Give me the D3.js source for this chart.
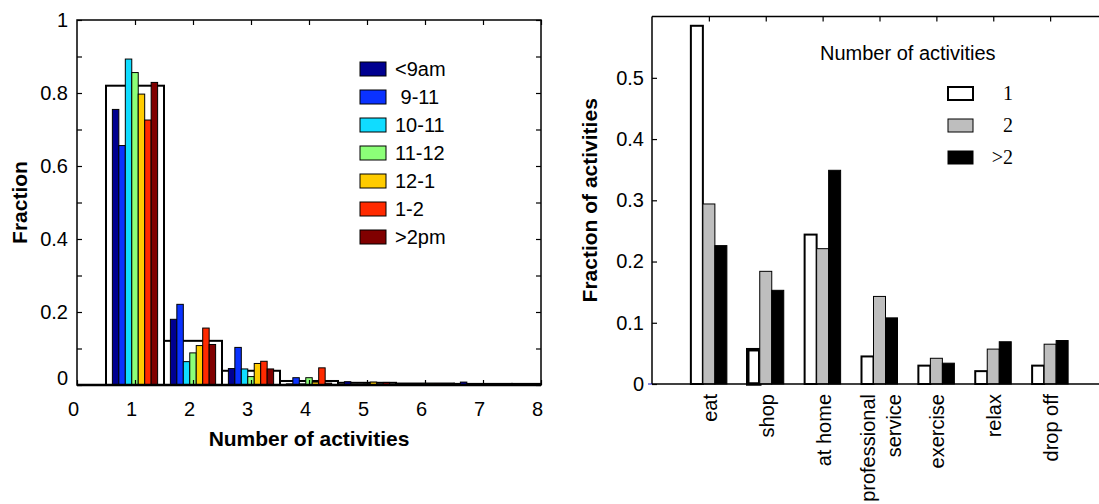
<!DOCTYPE html>
<html>
<head>
<meta charset="utf-8">
<script src="https://cdn.jsdelivr.net/npm/d3@7"></script>
<style>
  body { margin: 0; background: #fff; }
  svg text { font-family: "Liberation Sans", Arial, sans-serif; fill: #000; }
</style>
</head>
<body>
<svg id="chart" width="1099" height="504"></svg>
<script>
// ---- left panel data: fraction of people by number of activities, per start time ----
const counts = [1, 2, 3, 4, 5, 6, 7, 8];
const allTimes = [0.82, 0.121, 0.039, 0.011, 0.006, 0.004, 0.003, 0.003];
const slotNames = ["<9am", " 9-11", "10-11", "11-12", "12-1", "1-2", ">2pm"];
const slotColors = ["#000090", "#0a32ff", "#10dcff", "#8cff78", "#ffcc00", "#ff2a00", "#800000"];
const before9 = [0.755, 0.18, 0.045, 0.003, 0.009, 0.002, 0.008, 0.001];
const from9to11 = [0.656, 0.221, 0.103, 0.02, 0.002, 0.001, 0.002, 0];
const from10to11 = [0.893, 0.064, 0.044, 0.003, 0.002, 0.001, 0.001, 0];
const from11to12 = [0.856, 0.088, 0.023, 0.02, 0.003, 0.003, 0.001, 0];
const from12to1 = [0.797, 0.108, 0.059, 0.008, 0.008, 0.003, 0.001, 0];
const from1to2 = [0.726, 0.156, 0.065, 0.047, 0.002, 0.003, 0.001, 0];
const after2 = [0.829, 0.111, 0.044, 0.005, 0.007, 0.002, 0.001, 0];
const slotSeries = [before9, from9to11, from10to11, from11to12, from12to1, from1to2, after2];

// ---- right panel data: fraction of activities by type ----
const activities = ["eat", "shop", "at home", "professional service", "exercise", "relax", "drop off"];
const activityLines = [["eat"], ["shop"], ["at home"], ["professional", "service"], ["exercise"], ["relax"], ["drop off"]];
const oneAct = [0.585, 0.056, 0.244, 0.045, 0.030, 0.021, 0.030];
const twoAct = [0.294, 0.184, 0.221, 0.143, 0.042, 0.057, 0.065];
const moreAct = [0.226, 0.153, 0.349, 0.108, 0.034, 0.069, 0.071];
const groupNames = ["1", "2", ">2"];
const groupFills = ["#ffffff", "#bebebe", "#000000"];

const svg = d3.select("#chart");

// ================= left panel =================
const xL = d3.scaleLinear().domain([0, 8]).range([77, 541]);
const yL = d3.scaleLinear().domain([0, 1]).range([385, 20]);
const sub = d3.scaleBand().domain(slotNames).range([-0.39, 0.39]);

svg.append("clipPath").attr("id", "clipL")
  .append("rect").attr("x", xL(0)).attr("y", 0)
  .attr("width", xL(8) - xL(0)).attr("height", yL(0) + 4);

const gL = svg.append("g").attr("clip-path", "url(#clipL)");

// overall bars (white, behind)
gL.selectAll("rect.all")
  .data(counts.map((c, i) => ({ c, v: allTimes[i] })))
  .join("rect")
  .attr("class", "all")
  .attr("x", d => xL(d.c - 0.5))
  .attr("width", xL(1) - xL(0))
  .attr("y", d => yL(d.v))
  .attr("height", d => yL(0) - yL(d.v))
  .attr("fill", "#fff")
  .attr("stroke", "#000")
  .attr("stroke-width", 2);

// per time-slot bars
slotSeries.forEach((vals, s) => {
  gL.selectAll(null)
    .data(vals.map((v, i) => ({ c: counts[i], v })).filter(d => d.v > 0))
    .join("rect")
    .attr("x", d => xL(d.c + sub(slotNames[s])))
    .attr("width", xL(sub.bandwidth()) - xL(0))
    .attr("y", d => yL(d.v))
    .attr("height", d => yL(0) - yL(d.v))
    .attr("fill", slotColors[s])
    .attr("stroke", "#000")
    .attr("stroke-width", 1);
});

// axes
const fmt = d3.format(".1~f");
const yTicks = d3.range(0, 11).map(i => i / 10);

const axL = svg.append("g").attr("transform", `translate(${xL(0)},0)`)
  .call(d3.axisLeft(yL).tickValues(yTicks).tickSize(-5).tickPadding(9)
    .tickFormat(d => (Math.round(d * 10) % 2 === 0 ? fmt(d) : "")));
svg.append("g").attr("transform", `translate(${xL(8)},0)`)
  .call(d3.axisRight(yL).tickValues(yTicks).tickSize(-5).tickFormat(""));
svg.append("g").attr("transform", `translate(0,${yL(1)})`)
  .call(d3.axisTop(xL).tickValues(counts).tickSize(-5).tickFormat(""));
const axB = svg.append("g").attr("transform", `translate(0,${yL(0)})`)
  .call(d3.axisBottom(xL).tickValues(d3.range(0, 9)).tickSize(-5).tickPadding(17));

svg.selectAll(".domain").remove();
svg.selectAll(".tick line").attr("stroke", "#000").attr("stroke-width", 1.2);
[axL, axB].forEach(a => a.selectAll("text")
  .style("font-family", '"Liberation Sans", Arial, sans-serif')
  .style("font-size", "20px"));
axB.selectAll("text").attr("dx", -4);
// the zero label sits a little above the baseline, as in the original
axL.selectAll(".tick").filter(d => d === 0).select("text").attr("y", -7);

svg.append("rect")
  .attr("x", xL(0)).attr("y", yL(1))
  .attr("width", xL(8) - xL(0)).attr("height", yL(0) - yL(1))
  .attr("fill", "none").attr("stroke", "#000").attr("stroke-width", 1.5);
svg.append("line")
  .attr("x1", xL(0)).attr("x2", xL(8)).attr("y1", yL(0)).attr("y2", yL(0))
  .attr("stroke", "#000").attr("stroke-width", 2.5);

svg.append("text")
  .attr("x", (xL(0) + xL(8)) / 2).attr("y", 446)
  .attr("text-anchor", "middle")
  .style("font-size", "21px").style("font-weight", "bold")
  .text("Number of activities");
svg.append("text")
  .attr("transform", `translate(27,${(yL(0) + yL(1)) / 2}) rotate(-90)`)
  .attr("text-anchor", "middle")
  .style("font-size", "21px").style("font-weight", "bold")
  .text("Fraction");

// legend
const legL = svg.append("g").attr("transform", "translate(360,62)");
slotNames.forEach((name, i) => {
  const row = legL.append("g").attr("transform", `translate(0,${i * 28})`);
  row.append("rect").attr("width", 26).attr("height", 14)
    .attr("fill", slotColors[i]).attr("stroke", "#000").attr("stroke-width", 1);
  row.append("text").attr("x", 35).attr("y", 14)
    .style("font-size", "20px").style("white-space", "pre")
    .attr("xml:space", "preserve")
    .text(name);
});

// ================= right panel =================
const xR = d3.scaleLinear().domain([0, 8]).range([652, 1107]);
const yR = d3.scaleLinear().domain([0, 0.6]).range([384, 16.6]);
const barW = 0.211;
const groupValues = [oneAct, twoAct, moreAct];

groupValues.forEach((vals, g) => {
  svg.selectAll(null)
    .data(vals.map((v, i) => ({ a: activities[i], i, v })))
    .join("rect")
    .attr("x", d => xR(d.i + 1 + (g - 1) * barW - barW / 2))
    .attr("width", xR(barW) - xR(0))
    .attr("y", d => yR(d.v))
    .attr("height", d => yR(0) - yR(d.v))
    .attr("fill", groupFills[g])
    .attr("stroke", "#000")
    .attr("stroke-width", d => (g === 0 ? (d.a === "shop" ? 3.5 : 2) : 1));
});

const axR = svg.append("g").attr("transform", `translate(${xR(0)},0)`)
  .call(d3.axisLeft(yR).tickValues([0, 0.1, 0.2, 0.3, 0.4, 0.5]).tickSize(-5).tickPadding(8)
    .tickFormat(fmt));
svg.append("g").attr("transform", `translate(0,${yR(0.6)})`)
  .call(d3.axisTop(xR).tickValues(d3.range(1, 8)).tickSize(-5).tickFormat(""));
svg.selectAll(".domain").remove();
svg.selectAll(".tick line").attr("stroke", "#000").attr("stroke-width", 1.2);
axR.selectAll("text")
  .style("font-family", '"Liberation Sans", Arial, sans-serif')
  .style("font-size", "20px");

svg.append("line")
  .attr("x1", xR(0)).attr("x2", 1099).attr("y1", yR(0.6)).attr("y2", yR(0.6))
  .attr("stroke", "#000").attr("stroke-width", 1.5);
svg.append("line")
  .attr("x1", xR(0)).attr("x2", xR(0)).attr("y1", yR(0.6)).attr("y2", yR(0))
  .attr("stroke", "#000").attr("stroke-width", 1.5);
svg.append("line")
  .attr("x1", xR(0)).attr("x2", 1099).attr("y1", yR(0)).attr("y2", yR(0))
  .attr("stroke", "#000").attr("stroke-width", 1.5);
svg.append("line")
  .attr("x1", xR(0) - 4).attr("x2", xR(0)).attr("y1", yR(0)).attr("y2", yR(0))
  .attr("stroke", "#1010c0").attr("stroke-width", 1);

// category labels, rotated
activityLines.forEach((lines, i) => {
  lines.forEach((line, j) => {
    svg.append("text")
      .attr("transform", `translate(${xR(i + 1) + 1 + (j - (lines.length - 1) / 2) * 26},394) rotate(-90)`)
      .attr("text-anchor", "end")
      .attr("dy", "0.35em")
      .style("font-size", "20px")
      .text(line);
  });
});

svg.append("text")
  .attr("transform", `translate(597,${(yR(0) + yR(0.6)) / 2}) rotate(-90)`)
  .attr("text-anchor", "middle")
  .style("font-size", "21px").style("font-weight", "bold")
  .text("Fraction of activities");

// legend
svg.append("text").attr("x", 820).attr("y", 60)
  .style("font-size", "20px").text("Number of activities");
const legR = svg.append("g").attr("transform", "translate(948,87)");
groupNames.forEach((name, i) => {
  const row = legR.append("g").attr("transform", `translate(0,${i * 32})`);
  row.append("rect").attr("width", 25).attr("height", 13)
    .attr("fill", groupFills[i]).attr("stroke", "#000").attr("stroke-width", i === 0 ? 2 : 1);
  row.append("text").attr("x", 65).attr("y", 13)
    .attr("text-anchor", "end")
    .style("font-family", '"Liberation Serif", "Times New Roman", serif')
    .style("font-size", "20px")
    .text(name);
});
</script>
</body>
</html>
